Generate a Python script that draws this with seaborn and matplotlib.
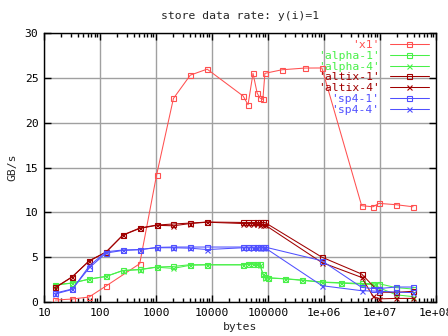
import math
import matplotlib
matplotlib.use("Agg")
import matplotlib.pyplot as plt
import matplotlib.ticker as mticker
import seaborn as sns
import pandas as pd

# ---- measured store data rates (bytes -> GB/s) ----
x1_bytes = [16, 32, 64, 128, 512, 1024, 2048, 4096, 8192, 36000, 44000, 54000,
            64000, 72000, 81000, 88000, 178000, 457000, 917000, 4.7e6, 7.5e6,
            9.6e6, 1.94e7, 3.9e7]
x1_rate = [0.22, 0.33, 0.56, 1.78, 4.27, 14.16, 22.7, 25.3, 25.97, 22.97, 22.0,
           25.5, 23.3, 22.74, 22.6, 25.5, 25.9, 26.09, 26.1, 10.74, 10.62, 11.0,
           10.85, 10.62]

alpha1_bytes = [16, 32, 64, 128, 256, 512, 1024, 2048, 4096, 8192, 36000, 44000,
                54000, 64000, 72000, 81000, 88000, 100000, 200000, 400000, 917000,
                2e6, 4.7e6, 7.5e6, 9.6e6, 1.94e7, 3.9e7]
alpha1_rate = [1.93, 2.12, 2.56, 2.85, 3.52, 3.63, 3.9, 3.97, 4.16, 4.16, 4.16,
               4.27, 4.27, 4.27, 4.2, 3.15, 2.74, 2.7, 2.6, 2.45, 2.23, 2.15,
               2.07, 2.04, 2.04, 1.6, 1.45]

alpha4_bytes = [16, 32, 64, 128, 256, 512, 1024, 2048, 4096, 8192, 36000, 44000,
                54000, 64000, 72000, 81000, 88000, 100000, 200000, 400000, 917000,
                2e6, 4.7e6, 7.5e6, 9.6e6, 1.94e7, 3.9e7]
alpha4_rate = [1.9, 2.1, 2.55, 2.85, 3.5, 3.6, 3.88, 3.75, 4.1, 4.14, 4.14, 4.2,
               4.2, 4.2, 4.1, 3.1, 2.7, 2.68, 2.58, 2.42, 2.2, 2.1, 2.0, 1.95,
               1.6, 0.8, 0.6]

altix1_bytes = [16, 32, 64, 128, 256, 512, 1024, 2048, 4096, 8192, 36000, 44000,
                54000, 64000, 72000, 81000, 88000, 917000, 4.7e6, 9.6e6, 1.94e7,
                3.9e7]
altix1_rate = [1.63, 2.82, 4.57, 5.57, 7.47, 8.25, 8.58, 8.7, 8.8, 8.92, 8.87,
               8.87, 8.87, 8.87, 8.87, 8.87, 8.87, 5.0, 3.12, 1.1, 1.07, 1.2]

altix4_bytes = [16, 32, 64, 128, 256, 512, 1024, 2048, 4096, 8192, 36000, 44000,
                54000, 64000, 72000, 81000, 88000, 917000, 4.7e6, 7.5e6, 9.6e6,
                1.94e7, 3.9e7]
altix4_rate = [1.6, 2.8, 4.6, 5.55, 7.45, 8.2, 8.55, 8.5, 8.75, 8.9, 8.75, 8.75,
               8.75, 8.75, 8.6, 8.6, 8.6, 4.4, 2.74, 0.65, 0.35, 0.4, 0.4]

sp41_bytes = [16, 32, 64, 128, 256, 512, 1024, 2048, 4096, 8192, 36000, 44000,
              54000, 64000, 72000, 81000, 88000, 917000, 4.7e6, 7.5e6, 9.6e6,
              1.94e7, 3.9e7]
sp41_rate = [1.0, 1.45, 3.79, 5.46, 5.75, 5.83, 6.09, 6.13, 6.13, 6.13, 6.13,
             6.13, 6.13, 6.13, 6.13, 6.13, 6.13, 4.6, 1.63, 1.5, 1.5, 1.67, 1.67]

sp44_bytes = [16, 32, 64, 128, 256, 512, 1024, 2048, 4096, 8192, 36000, 44000,
              54000, 64000, 72000, 81000, 88000, 917000, 4.7e6, 9.6e6, 1.94e7,
              3.9e7]
sp44_rate = [0.9, 1.4, 4.0, 5.6, 5.8, 5.85, 6.05, 6.05, 6.0, 5.85, 6.05, 6.05,
             6.05, 6.05, 6.05, 6.05, 6.05, 1.82, 1.26, 1.2, 1.1, 1.05]

x_ticks = [10, 100, 1000, 10000, 100000, 1e6, 1e7, 1e8]
y_ticks = [0, 5, 10, 15, 20, 25, 30]

series = [
    ("'x1'", x1_bytes, x1_rate, "#ff5050", "s"),
    ("'alpha-1'", alpha1_bytes, alpha1_rate, "#48f048", "s"),
    ("'alpha-4'", alpha4_bytes, alpha4_rate, "#48f048", "x"),
    ("'altix-1'", altix1_bytes, altix1_rate, "#a00000", "s"),
    ("'altix-4'", altix4_bytes, altix4_rate, "#a00000", "x"),
    ("'sp4-1'", sp41_bytes, sp41_rate, "#5050ff", "s"),
    ("'sp4-4'", sp44_bytes, sp44_rate, "#5050ff", "x"),
]

FS = 8.2

sns.set_theme(style="white")
plt.rcParams["font.family"] = ["DejaVu Sans Mono", "DejaVu Sans"]
plt.rcParams["font.size"] = FS

fig = plt.figure(figsize=(4.48, 3.36), dpi=100)
ax = fig.add_axes([44 / 448, 1 - 302 / 336, (436 - 44) / 448, (302 - 33) / 336])

for label, xs, ys, color, mk in series:
    df = pd.DataFrame({"bytes": xs, "rate": ys})
    kw = dict(marker=mk, markersize=3.6, markeredgewidth=0.8)
    if mk == "s":
        kw["markerfacecolor"] = "none"
    sns.lineplot(data=df, x="bytes", y="rate", ax=ax, color=color, linewidth=0.75,
                 estimator=None, sort=False, label=label,
                 markeredgecolor=color, **kw)

ax.set_xscale("log")
ax.set_xlim(10, 1e8)
ax.set_ylim(0, 30)
ax.set_yticks(y_ticks)
ax.xaxis.set_major_locator(mticker.FixedLocator(x_ticks))
ax.xaxis.set_minor_locator(mticker.LogLocator(base=10, subs=range(2, 10), numticks=100))
ax.xaxis.set_minor_formatter(mticker.NullFormatter())


def fmt(v, pos):
    e = int(round(math.log10(v)))
    if e <= 5:
        return str(10 ** e)
    return "1e+%02d" % e


ax.xaxis.set_major_formatter(mticker.FuncFormatter(fmt))
ax.grid(True, which="major", color="#a0a0a0", linewidth=1.0)
ax.set_axisbelow(True)
ax.tick_params(which="both", direction="in", top=True, right=True,
               bottom=True, left=True, colors="black", labelsize=FS)
ax.tick_params(which="major", length=5, width=1, pad=4)
ax.tick_params(which="minor", length=3, width=1)
for s in ax.spines.values():
    s.set_color("black")
    s.set_linewidth(1)

ax.set_xlabel("bytes", fontsize=FS, labelpad=3)
ax.set_ylabel("GB/s", fontsize=FS, labelpad=5)
ax.set_title("store data rate: y(i)=1", fontsize=FS, pad=10)

leg = ax.legend(loc="upper right", frameon=False, markerfirst=False,
                handlelength=3.4, fontsize=FS, labelspacing=0.06,
                borderaxespad=0.25, handletextpad=0.9)
for text, (_, _, _, color, _) in zip(leg.get_texts(), series):
    text.set_color(color)

fig.savefig("out.png", dpi=100)
